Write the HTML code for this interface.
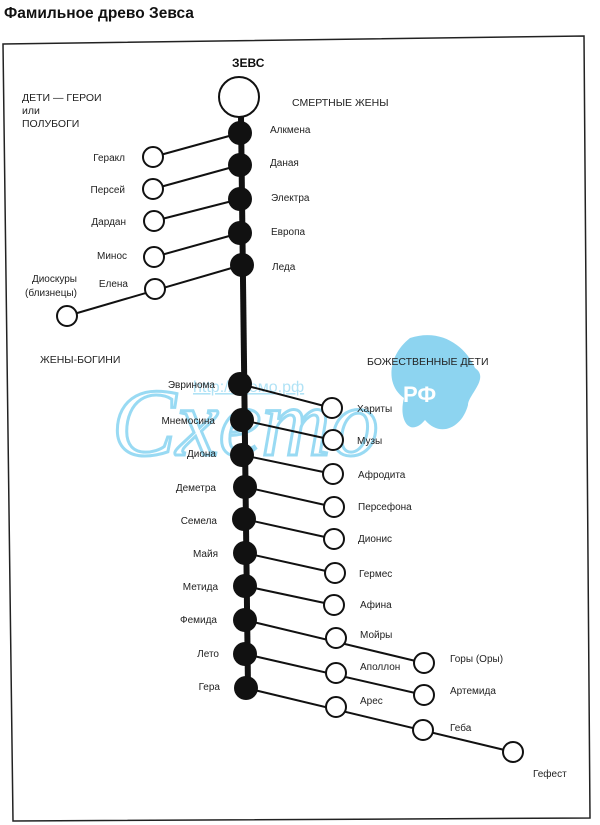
<!DOCTYPE html>
<html><head><meta charset="utf-8"><style>
body{margin:0;background:#fff;}
svg{display:block;font-family:"Liberation Sans",Arial,sans-serif;}
</style></head><body>
<svg width="600" height="825" viewBox="0 0 600 825" xmlns="http://www.w3.org/2000/svg">
<text x="4" y="18" font-size="15.5" font-weight="bold" fill="#111">Фамильное древо Зевса</text>
<polygon points="3,44 584,36 590,818 13,821" fill="none" stroke="#222" stroke-width="1.5"/>
<!-- watermark -->
<g opacity="0.7">
<path d="M410,338 C440,328 465,345 475,368 C490,378 468,395 468,405 C462,428 440,438 425,420 C410,438 398,420 404,398 C385,385 388,355 410,338 Z" fill="#5ec3ea"/>
<text x="403" y="402" font-size="22" font-weight="bold" fill="#fff">РФ</text>
<text x="112" y="455" font-size="96" font-family="Liberation Serif,serif" font-style="italic" fill="none" stroke="#6ecbee" stroke-width="3">Cxemo</text>
<text x="193" y="392" font-size="16" fill="#8fd6f2" text-decoration="underline">http://схемо.рф</text>
</g>
<text x="232" y="67" font-size="12" font-weight="bold" fill="#111">ЗЕВС</text>
<text x="22" y="101" font-size="10.5" fill="#222">ДЕТИ — ГЕРОИ</text>
<text x="22" y="114" font-size="10.5" fill="#222">или</text>
<text x="22" y="127" font-size="10.5" fill="#222">ПОЛУБОГИ</text>
<text x="292" y="106" font-size="10.5" fill="#222">СМЕРТНЫЕ ЖЕНЫ</text>
<text x="40" y="363" font-size="10.5" fill="#222">ЖЕНЫ-БОГИНИ</text>
<text x="367" y="365" font-size="10.5" fill="#222">БОЖЕСТВЕННЫЕ ДЕТИ</text>
<g stroke="#111" fill="none">
<line x1="241" y1="117" x2="248" y2="688" stroke-width="6"/>
<g stroke-width="2">
<line x1="240" y1="133" x2="153" y2="157"/><line x1="240" y1="165" x2="153" y2="189"/>
<line x1="240" y1="199" x2="154" y2="221"/><line x1="240" y1="233" x2="154" y2="257"/>
<line x1="242" y1="265" x2="67" y2="316"/>
<line x1="240" y1="384" x2="332" y2="408"/><line x1="242" y1="420" x2="333" y2="440"/>
<line x1="242" y1="455" x2="333" y2="474"/><line x1="245" y1="487" x2="334" y2="507"/>
<line x1="244" y1="519" x2="334" y2="539"/><line x1="245" y1="553" x2="335" y2="573"/>
<line x1="245" y1="586" x2="334" y2="605"/><line x1="245" y1="620" x2="424" y2="663"/>
<line x1="245" y1="654" x2="424" y2="695"/><line x1="246" y1="688" x2="513" y2="752"/>
</g>
</g>
<circle cx="239" cy="97" r="20" fill="#fff" stroke="#111" stroke-width="2"/>
<g fill="#111">
<circle cx="240" cy="133" r="12"/><circle cx="240" cy="165" r="12"/><circle cx="240" cy="199" r="12"/>
<circle cx="240" cy="233" r="12"/><circle cx="242" cy="265" r="12"/>
<circle cx="240" cy="384" r="12"/><circle cx="242" cy="420" r="12"/><circle cx="242" cy="455" r="12"/>
<circle cx="245" cy="487" r="12"/><circle cx="244" cy="519" r="12"/><circle cx="245" cy="553" r="12"/>
<circle cx="245" cy="586" r="12"/><circle cx="245" cy="620" r="12"/><circle cx="245" cy="654" r="12"/>
<circle cx="246" cy="688" r="12"/>
</g>
<g fill="#fff" stroke="#111" stroke-width="2">
<circle cx="153" cy="157" r="10"/><circle cx="153" cy="189" r="10"/><circle cx="154" cy="221" r="10"/>
<circle cx="154" cy="257" r="10"/><circle cx="155" cy="289" r="10"/><circle cx="67" cy="316" r="10"/>
<circle cx="332" cy="408" r="10"/><circle cx="333" cy="440" r="10"/><circle cx="333" cy="474" r="10"/>
<circle cx="334" cy="507" r="10"/><circle cx="334" cy="539" r="10"/><circle cx="335" cy="573" r="10"/>
<circle cx="334" cy="605" r="10"/><circle cx="336" cy="638" r="10"/><circle cx="336" cy="673" r="10"/>
<circle cx="336" cy="707" r="10"/><circle cx="424" cy="663" r="10"/><circle cx="424" cy="695" r="10"/>
<circle cx="423" cy="730" r="10"/><circle cx="513" cy="752" r="10"/>
</g>
<g font-size="10" fill="#222">
<text x="270" y="133">Алкмена</text><text x="270" y="166">Даная</text><text x="271" y="201">Электра</text>
<text x="271" y="235">Европа</text><text x="272" y="270">Леда</text>
<g text-anchor="end">
<text x="125" y="161">Геракл</text><text x="125" y="193">Персей</text><text x="126" y="225">Дардан</text>
<text x="127" y="259">Минос</text><text x="128" y="287">Елена</text>
<text x="77" y="282">Диоскуры</text><text x="77" y="296">(близнецы)</text>
<text x="215" y="388">Эвринома</text><text x="215" y="424">Мнемосина</text><text x="216" y="457">Диона</text>
<text x="216" y="491">Деметра</text><text x="217" y="524">Семела</text><text x="218" y="557">Майя</text>
<text x="218" y="590">Метида</text><text x="217" y="623">Фемида</text><text x="219" y="657">Лето</text>
<text x="220" y="690">Гера</text>
</g>
<text x="357" y="412">Хариты</text><text x="357" y="444">Музы</text><text x="358" y="478">Афродита</text>
<text x="358" y="510">Персефона</text><text x="358" y="542">Дионис</text><text x="359" y="577">Гермес</text>
<text x="360" y="608">Афина</text><text x="360" y="638">Мойры</text><text x="360" y="670">Аполлон</text>
<text x="360" y="704">Арес</text><text x="450" y="662">Горы (Оры)</text><text x="450" y="694">Артемида</text>
<text x="450" y="731">Геба</text><text x="533" y="777">Гефест</text>
</g>
</svg>
</body></html>
